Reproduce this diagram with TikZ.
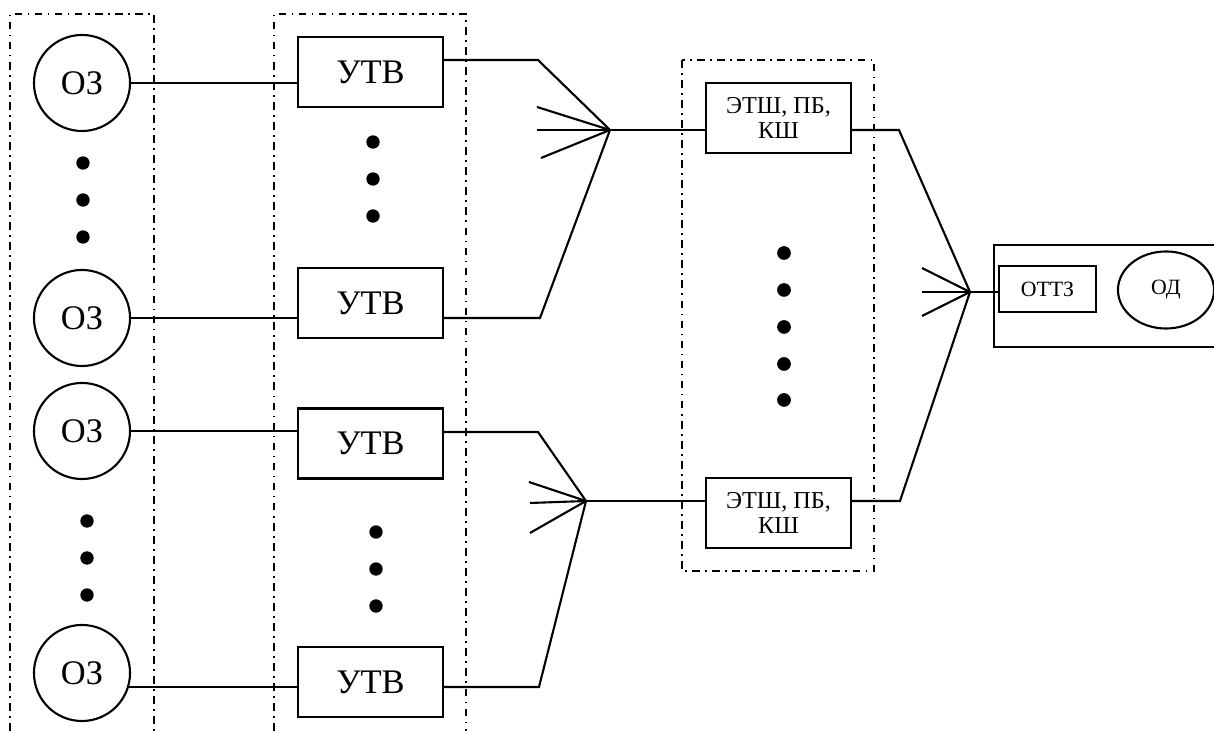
\documentclass[tikz,border=0pt]{standalone}
\usepackage{fontspec}
\setmainfont{Liberation Serif}
\usetikzlibrary{shapes.geometric,calc}
\tikzset{
  ln/.style={line width=0.6pt,draw=black},
  grp/.style={line width=0.75pt,dash pattern=on 2.2pt off 1.5pt on 0.5pt off 1.5pt},
  src/.style={circle,draw,line width=0.6pt,minimum size=0.96cm,inner sep=0pt,font=\fontsize{9.8}{11}\selectfont},
  utvbox/.style={draw,line width=0.6pt,minimum width=1.45cm,minimum height=0.7cm,inner sep=0pt,font=\fontsize{9.8}{11}\selectfont},
  etshbox/.style={draw,line width=0.6pt,minimum width=1.45cm,minimum height=0.7cm,inner sep=0pt,align=center,font=\fontsize{6.9}{7.2}\selectfont},
  smallbox/.style={draw,line width=0.6pt,minimum width=0.97cm,minimum height=0.46cm,inner sep=0pt,font=\fontsize{6.2}{7}\selectfont},
  tgt/.style={ellipse,draw,line width=0.6pt,minimum width=0.96cm,minimum height=0.77cm,inner sep=0pt,font=\fontsize{6.2}{7}\selectfont},
  pt/.style={fill=black}
}
\begin{document}
\begin{tikzpicture}[x=0.01cm,y=-0.01cm]
  \useasboundingbox (0,0) rectangle (1214,731);

  \draw[grp] (10,731) -- (10,14) -- (154,14) -- (154,731);
  \draw[grp] (274,731) -- (274,14) -- (466,14) -- (466,731);
  \draw[grp] (682,60) rectangle (874,571);
  \draw[line width=0.6pt] (1214,245) -- (994,245) -- (994,347) -- (1214,347);

  \node[src] (oz1) at (82,83) {ОЗ};
  \node[src] (oz2) at (82,318) {ОЗ};
  \node[src] (oz3) at (82,431) {ОЗ};
  \node[src] (oz4) at (82,673) {ОЗ};

  \node[utvbox] (utv1) at (370.5,72) {УТВ};
  \node[utvbox] (utv2) at (370.5,303) {УТВ};
  \node[utvbox] (utv3) at (370.5,443.5) {УТВ};
  \node[utvbox] (utv4) at (370.5,682) {УТВ};

  \node[etshbox] (etsh1) at (778.5,118) {ЭТШ, ПБ,\\КШ};
  \node[etshbox] (etsh2) at (778.5,513) {ЭТШ, ПБ,\\КШ};

  \node[smallbox] (ottz) at (1047.5,289) {ОТТЗ};
  \node[tgt] (od) at (1166,290) {ОД};

  \foreach \y in {163,200,237} \fill[pt] (83,\y) circle (1.9pt);
  \foreach \y in {521,558,595} \fill[pt] (87,\y) circle (1.9pt);
  \foreach \y in {142,179,216} \fill[pt] (373,\y) circle (1.9pt);
  \foreach \y in {532,569,606} \fill[pt] (376,\y) circle (1.9pt);
  \foreach \y in {253,290,327,364,400} \fill[pt] (784,\y) circle (1.95pt);

  \coordinate (j1) at (610,130);
  \coordinate (j2) at (586,501);
  \coordinate (j3) at (970,292);
  \coordinate (b1) at (538,60);
  \coordinate (b2) at (540,318);
  \coordinate (b3) at (538,432);
  \coordinate (b4) at (539,687);
  \coordinate (b5) at (899,130);
  \coordinate (b6) at (900,501);

  \draw[ln] (oz1.east) -- (oz1.east -| utv1.west);
  \draw[ln] (oz2.east) -- (oz2.east -| utv2.west);
  \draw[ln] (oz3.east) -- (oz3.east -| utv3.west);
  \draw[ln] (oz4.-17) -- (oz4.-17 -| utv4.west);

  \draw[ln] (utv1.east |- b1) -- (b1) -- (j1);
  \draw[ln] (utv2.east |- b2) -- (b2) -- (j1);
  \draw[ln] (utv3.east |- b3) -- (b3) -- (j2);
  \draw[ln] (utv4.east |- b4) -- (b4) -- (j2);
  \draw[ln] (j1) -- (j1 -| etsh1.west);
  \draw[ln] (j2) -- (j2 -| etsh2.west);
  \draw[ln] (etsh1.east |- b5) -- (b5) -- (j3);
  \draw[ln] (etsh2.east |- b6) -- (b6) -- (j3);
  \draw[ln] (j3) -- (j3 -| ottz.west);

  \foreach \d in {(-73,-23),(-73,0),(-69,28)} \draw[ln] (j1) -- ++\d;
  \foreach \d in {(-57,-19),(-56,2),(-56,32)} \draw[ln] (j2) -- ++\d;
  \foreach \d in {(-48,-24),(-48,0),(-48,24)} \draw[ln] (j3) -- ++\d;
\end{tikzpicture}
\end{document}
